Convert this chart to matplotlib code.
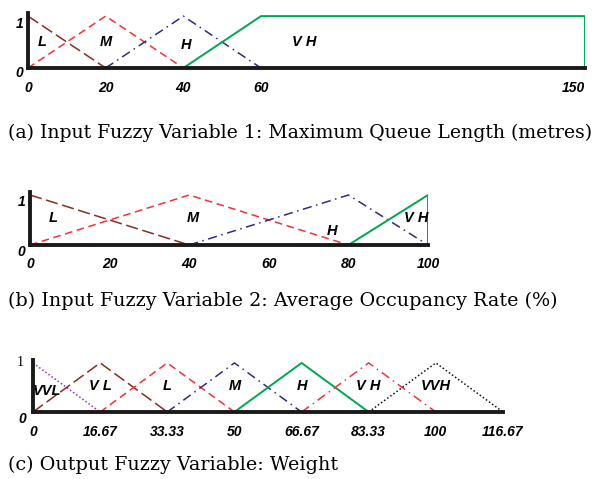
#!/usr/bin/env python3
"""Membership functions of the fuzzy variables (queue length, occupancy,
output weight)."""

import matplotlib
matplotlib.use("Agg")
import matplotlib.pyplot as plt
import numpy as np

W, H = 598, 479

DARKRED = "#8b2a22"
RED = "#f0323a"
BLUE = "#2e2a8c"
GREEN = "#00a651"
PURPLE = "#9a2fb4"
BLACK = "#111111"

# (a) maximum queue length (metres)
q_ticks = [0, 20, 40, 60, 150]
q_L_x, q_L_y = [0, 20], [1, 0]
q_M_x, q_M_y = [0, 20, 40], [0, 1, 0]
q_H_x, q_H_y = [20, 40, 60], [0, 1, 0]
q_VH_x, q_VH_y = [40, 60, 150, 150], [0, 1, 1, 0]

# (b) average occupancy rate (%)
o_ticks = [0, 20, 40, 60, 80, 100]
o_L_x, o_L_y = [0, 40], [1, 0]
o_M_x, o_M_y = [0, 40, 80], [0, 1, 0]
o_H_x, o_H_y = [40, 80, 100], [0, 1, 0]
o_VH_x, o_VH_y = [80, 100, 100], [0, 1, 0]

# (c) output weight
w_ticks = [0, 16.67, 33.33, 50, 66.67, 83.33, 100, 116.67]
w_tick_labels = ["0", "16.67", "33.33", "50", "66.67", "83.33", "100", "116.67"]
w_VVL_x, w_VVL_y = [0, 16.67], [1, 0]
w_VL_x, w_VL_y = [0, 16.67, 33.33], [0, 1, 0]
w_L_x, w_L_y = [16.67, 33.33, 50], [0, 1, 0]
w_M_x, w_M_y = [33.33, 50, 66.67], [0, 1, 0]
w_H_x, w_H_y = [50, 66.67, 83.33], [0, 1, 0]
w_VH_x, w_VH_y = [66.67, 83.33, 100], [0, 1, 0]
w_VVH_x, w_VVH_y = [83.33, 100, 116.67], [0, 1, 0]

TICKFONT = dict(family="Liberation Sans", weight="bold", style="italic",
                size=10)
LABFONT = dict(family="Liberation Sans", weight="bold", style="italic",
               size=10.5)


def px_axes(fig, x0, x1, y_top, y0):
    """Axes from pixel box: x0..x1 horizontally, y_top..y0 (image rows)."""
    return fig.add_axes([x0 / W, (H - y0) / H, (x1 - x0) / W,
                         (y0 - y_top) / H])


def ylab(ax, y, s, dx, dy, **font):
    ax.annotate(s, xy=(0, y), xycoords=("axes fraction", "data"),
                xytext=(dx, dy), textcoords="offset pixels",
                ha="right", va="center", **font)


def style(ax, xticks, xlabels, one_off, zero_off, one_serif=False):
    for s in ("top", "right"):
        ax.spines[s].set_visible(False)
    for s in ("left", "bottom"):
        ax.spines[s].set_linewidth(2.8)
        ax.spines[s].set_color("#1a1a1a")
    ax.set_xticks(xticks)
    ax.set_xticklabels(xlabels, fontdict=TICKFONT)
    ax.set_yticks([])
    ax.tick_params(axis="x", length=0, pad=9)
    ax.set_ylim(0, 1.06)
    ylab(ax, 0, "0", *zero_off, **TICKFONT)
    if one_serif:
        ylab(ax, 1, "1", *one_off, family="Liberation Serif", size=10)
    else:
        ylab(ax, 1, "1", *one_off, **TICKFONT)


def caption(fig, y_px, s, size=13.8):
    fig.text(8 / W, 1 - y_px / H, s, va="baseline", family="DejaVu Serif",
             size=size)


fig = plt.figure(figsize=(W / 100, H / 100), dpi=100)

# ---------------------------------------------------------------------------
# (a)
# ---------------------------------------------------------------------------
ax = px_axes(fig, 28, 585, 13, 68)


def fwd(x):
    x = np.asarray(x, dtype=float)
    return np.where(x <= 60, x, 60 + (x - 60) * 0.927)


def inv(x):
    x = np.asarray(x, dtype=float)
    return np.where(x <= 60, x, 60 + (x - 60) / 0.927)


ax.set_xscale("function", functions=(fwd, inv))
ax.plot(q_L_x, q_L_y, color=DARKRED, lw=1.1, dashes=(8, 3))
ax.plot(q_M_x, q_M_y, color=RED, lw=1.1, dashes=(5, 3))
ax.plot(q_H_x, q_H_y, color=BLUE, lw=1.1, dashes=(6, 3, 1, 3))
ax.plot(q_VH_x, q_VH_y, color=GREEN, lw=1.4)
ax.set_xlim(0, 150)
style(ax, q_ticks, [str(t) for t in q_ticks], (-4, -8), (-5, -5))
ax.get_xticklabels()[-1].set_ha("right")
for txt, x, y in [("L", 3.6, 0.5), ("M", 20, 0.5), ("H", 40.7, 0.44),
                  ("V H", 72, 0.5)]:
    ax.text(x, y, txt, ha="center", va="center", **LABFONT)
caption(fig, 138.5, "(a) Input Fuzzy Variable 1: Maximum Queue "
        "Length (metres)", size=13.6)

# ---------------------------------------------------------------------------
# (b)
# ---------------------------------------------------------------------------
ax = px_axes(fig, 30, 428, 192, 245)
ax.plot(o_L_x, o_L_y, color=DARKRED, lw=1.1, dashes=(8, 3))
ax.plot(o_M_x, o_M_y, color=RED, lw=1.1, dashes=(5, 3))
ax.plot(o_H_x, o_H_y, color=BLUE, lw=1.1, dashes=(6, 3, 1, 3))
ax.plot(o_VH_x, o_VH_y, color=GREEN, lw=1.4)
ax.set_xlim(0, 100)
style(ax, o_ticks, [str(t) for t in o_ticks], (-4, -7), (-5, -7))
for txt, x, y in [("L", 5.8, 0.53), ("M", 41, 0.53), ("H", 76, 0.28),
                  ("V H", 97, 0.53)]:
    ax.text(x, y, txt, ha="center", va="center", **LABFONT)
caption(fig, 305.5, "(b) Input Fuzzy Variable 2: Average "
        "Occupancy Rate (%)")

# ---------------------------------------------------------------------------
# (c)
# ---------------------------------------------------------------------------
ax = px_axes(fig, 33, 503, 360, 412)
ax.plot(w_VVL_x, w_VVL_y, color=PURPLE, lw=1.1, dashes=(1, 1.5))
ax.plot(w_VL_x, w_VL_y, color=DARKRED, lw=1.1, dashes=(8, 3))
ax.plot(w_L_x, w_L_y, color=RED, lw=1.1, dashes=(5, 3))
ax.plot(w_M_x, w_M_y, color=BLUE, lw=1.1, dashes=(6, 3, 1, 3))
ax.plot(w_H_x, w_H_y, color=GREEN, lw=1.4)
ax.plot(w_VH_x, w_VH_y, color=RED, lw=1.1, dashes=(6, 3, 1, 3))
ax.plot(w_VVH_x, w_VVH_y, color=BLACK, lw=1.1, dashes=(1, 1.5))
ax.set_xlim(0, 116.67)
style(ax, w_ticks, w_tick_labels, (-9, 0), (-7, -7), one_serif=True)
for txt, x, y in [("VVL", 3.5, 0.42), ("V L", 16.67, 0.52),
                  ("L", 33.33, 0.52), ("M", 50, 0.52), ("H", 66.67, 0.52),
                  ("V H", 83.33, 0.52), ("VVH", 100, 0.52)]:
    ax.text(x, y, txt, ha="center", va="center", **LABFONT)
caption(fig, 470, "(c) Output Fuzzy Variable: Weight")

fig.savefig("out.png", dpi=100)
